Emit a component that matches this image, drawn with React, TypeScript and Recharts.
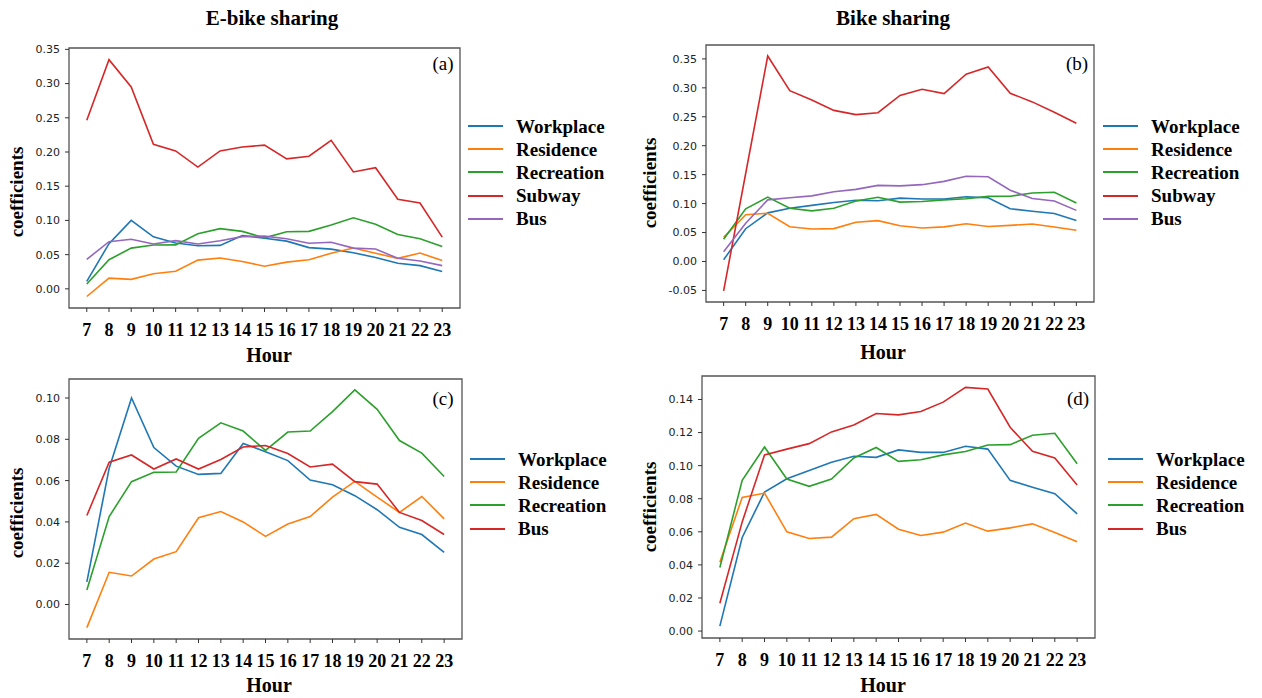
import { LineChart, Line, XAxis, YAxis, ReferenceArea } from 'recharts'

const HOURS = [7, 8, 9, 10, 11, 12, 13, 14, 15, 16, 17, 18, 19, 20, 21, 22, 23]

// E-bike sharing
const EB_WORKPLACE = [0.011, 0.066, 0.1, 0.076, 0.067, 0.063, 0.0635, 0.078, 0.074, 0.0697, 0.0603, 0.058, 0.0527, 0.0459, 0.0374, 0.0339, 0.0253]
const EB_RESIDENCE = [-0.0112, 0.0156, 0.0138, 0.022, 0.0256, 0.042, 0.045, 0.04, 0.033, 0.039, 0.0426, 0.052, 0.0596, 0.052, 0.0446, 0.0523, 0.0415]
const EB_RECREATION = [0.007, 0.0426, 0.0595, 0.064, 0.0642, 0.0805, 0.088, 0.084, 0.0746, 0.0835, 0.084, 0.0934, 0.1039, 0.0945, 0.0794, 0.0733, 0.062]
const EB_SUBWAY = [0.2465, 0.335, 0.295, 0.2113, 0.2016, 0.178, 0.2016, 0.2074, 0.21, 0.19, 0.1938, 0.217, 0.1708, 0.177, 0.131, 0.1254, 0.0756]
const EB_BUS = [0.0431, 0.0689, 0.0724, 0.0656, 0.0705, 0.0656, 0.0702, 0.0763, 0.077, 0.0731, 0.0666, 0.068, 0.0595, 0.0583, 0.0446, 0.0407, 0.0339]

// Bike sharing
const BS_WORKPLACE = [0.003, 0.0566, 0.084, 0.0921, 0.097, 0.102, 0.1057, 0.105, 0.1095, 0.108, 0.108, 0.1117, 0.11, 0.0911, 0.0869, 0.083, 0.0709]
const BS_RESIDENCE = [0.0416, 0.0808, 0.0834, 0.06, 0.056, 0.0568, 0.0679, 0.0705, 0.0616, 0.0578, 0.0598, 0.0653, 0.0604, 0.0624, 0.0648, 0.0596, 0.054]
const BS_RECREATION = [0.0384, 0.0911, 0.1113, 0.0919, 0.0875, 0.0919, 0.1046, 0.111, 0.1026, 0.1036, 0.1065, 0.1085, 0.1125, 0.1127, 0.1184, 0.1196, 0.1012]
const BS_SUBWAY = [-0.0507, 0.152, 0.355, 0.295, 0.279, 0.261, 0.2537, 0.257, 0.287, 0.2976, 0.29, 0.3235, 0.336, 0.2907, 0.2757, 0.2578, 0.2388]
const BS_BUS = [0.0168, 0.066, 0.1065, 0.11, 0.1133, 0.1204, 0.1246, 0.1315, 0.1307, 0.1327, 0.1384, 0.1473, 0.1463, 0.1232, 0.1087, 0.1046, 0.0883]

const TICKS_A = [0, 0.05, 0.1, 0.15, 0.2, 0.25, 0.3, 0.35]
const TICKS_B = [-0.05, 0, 0.05, 0.1, 0.15, 0.2, 0.25, 0.3, 0.35]
const TICKS_C = [0, 0.02, 0.04, 0.06, 0.08, 0.1]
const TICKS_D = [0, 0.02, 0.04, 0.06, 0.08, 0.1, 0.12, 0.14]

const C = ['#1f77b4', '#ff7f0e', '#2ca02c', '#d62728', '#9467bd']
const SERIF = '"Liberation Serif", "Times New Roman", serif'

const ebikeRows = HOURS.map((h, i) => ({
  hour: h, workplace: EB_WORKPLACE[i], residence: EB_RESIDENCE[i],
  recreation: EB_RECREATION[i], subway: EB_SUBWAY[i], bus: EB_BUS[i],
}))
const bikeRows = HOURS.map((h, i) => ({
  hour: h, workplace: BS_WORKPLACE[i], residence: BS_RESIDENCE[i],
  recreation: BS_RECREATION[i], subway: BS_SUBWAY[i], bus: BS_BUS[i],
}))

const FIVE = [
  { key: 'workplace', name: 'Workplace', color: C[0] },
  { key: 'residence', name: 'Residence', color: C[1] },
  { key: 'recreation', name: 'Recreation', color: C[2] },
  { key: 'subway', name: 'Subway', color: C[3] },
  { key: 'bus', name: 'Bus', color: C[4] },
]
const FOUR = [
  { key: 'workplace', name: 'Workplace', color: C[0] },
  { key: 'residence', name: 'Residence', color: C[1] },
  { key: 'recreation', name: 'Recreation', color: C[2] },
  { key: 'bus', name: 'Bus', color: C[3] },
]

type Series = { key: string; name: string; color: string }

function Panel(p: {
  left: number; top: number; width: number; height: number
  margin: { top: number; right: number; bottom: number; left: number }
  data: any[]; series: Series[]; domain: [number, number]; ticks: number[]
}) {
  return (
    <div style={{ position: 'absolute', left: p.left, top: p.top }}>
      <LineChart width={p.width} height={p.height} data={p.data} margin={p.margin}>
        <XAxis dataKey="hour" type="number" domain={[6.2, 23.8]} ticks={HOURS} allowDataOverflow interval={0}
          axisLine={false} tickSize={4} tickMargin={11} stroke="#333"
          tick={{ fill: '#000', fontFamily: SERIF, fontWeight: 'bold', fontSize: 18 }} height={50} />
        <YAxis type="number" domain={p.domain} ticks={p.ticks} allowDataOverflow width={60} interval={0}
          axisLine={false} tickSize={4} tickMargin={5} stroke="#333"
          tickFormatter={(v: number) => v.toFixed(2)}
          tick={{ fill: '#222', fontFamily: '"DejaVu Sans", sans-serif', fontSize: 11 }} />
        <ReferenceArea x1={6.2} x2={23.8} y1={p.domain[0]} y2={p.domain[1]}
          fill="none" stroke="#555" strokeWidth={1.3} fillOpacity={0} />
        {p.series.map((s) => (
          <Line key={s.key} type="linear" dataKey={s.key} stroke={s.color} strokeWidth={1.6}
            dot={false} isAnimationActive={false} />
        ))}
      </LineChart>
    </div>
  )
}

function Text(p: { x: number; y: number; size: number; bold?: boolean; rotate?: boolean; children: string }) {
  return (
    <div style={{
      position: 'absolute', left: p.x, top: p.y, fontFamily: SERIF, fontSize: p.size,
      fontWeight: p.bold ? 'bold' : 'normal', whiteSpace: 'nowrap', lineHeight: 1, color: '#000',
      transform: `translate(-50%, -50%)${p.rotate ? ' rotate(-90deg)' : ''}`,
    }}>{p.children}</div>
  )
}

function LegendBox(p: { x: number; y: number; series: Series[] }) {
  return (
    <div style={{ position: 'absolute', left: p.x, top: p.y }}>
      {p.series.map((s, i) => (
        <div key={s.key} style={{ position: 'absolute', left: 0, top: i * 23.2, display: 'flex', alignItems: 'center', height: 0 }}>
          <div style={{ width: 35, height: 2, background: s.color }} />
          <div style={{ marginLeft: 13, fontFamily: SERIF, fontWeight: 'bold', fontSize: 19, whiteSpace: 'nowrap', lineHeight: 1 }}>
            {s.name}
          </div>
        </div>
      ))}
    </div>
  )
}

export default function App() {
  return (
    <div style={{ position: 'absolute', left: 0, top: 0, width: 1262, height: 698, background: '#fff', overflow: 'hidden' }}>
      <Text x={272} y={18} size={21} bold>E-bike sharing</Text>
      <Text x={893} y={18} size={21} bold>Bike sharing</Text>

      <Panel left={0} top={0} width={470} height={370} margin={{ top: 48, right: 10, bottom: 12, left: 9 }}
        data={ebikeRows} series={FIVE} domain={[-0.028, 0.352]} ticks={TICKS_A} />
      <Panel left={620} top={0} width={480} height={370} margin={{ top: 45, right: 6, bottom: 18, left: 26 }}
        data={bikeRows} series={FIVE} domain={[-0.07, 0.374]} ticks={TICKS_B} />
      <Panel left={0} top={370} width={470} height={328} margin={{ top: 9, right: 8, bottom: 9, left: 9 }}
        data={ebikeRows} series={FOUR} domain={[-0.0167, 0.1092]} ticks={TICKS_C} />
      <Panel left={620} top={370} width={480} height={328} margin={{ top: 6, right: 5, bottom: 10, left: 22 }}
        data={bikeRows} series={FOUR} domain={[-0.0042, 0.1542]} ticks={TICKS_D} />

      <Text x={443} y={63} size={19}>(a)</Text>
      <Text x={1077} y={63} size={19}>(b)</Text>
      <Text x={443} y={398} size={19}>(c)</Text>
      <Text x={1078} y={398} size={19}>(d)</Text>

      <Text x={16} y={192} size={19} bold rotate>coefficients</Text>
      <Text x={649} y={183} size={19} bold rotate>coefficients</Text>
      <Text x={16} y={513} size={19} bold rotate>coefficients</Text>
      <Text x={649} y={507} size={19} bold rotate>coefficients</Text>

      <Text x={269} y={355} size={20} bold>Hour</Text>
      <Text x={883} y={352} size={20} bold>Hour</Text>
      <Text x={269} y={685} size={20} bold>Hour</Text>
      <Text x={883} y={685} size={20} bold>Hour</Text>

      <LegendBox x={468} y={126} series={FIVE} />
      <LegendBox x={1103} y={126} series={FIVE} />
      <LegendBox x={470} y={459} series={FOUR} />
      <LegendBox x={1108} y={459} series={FOUR} />
    </div>
  )
}
